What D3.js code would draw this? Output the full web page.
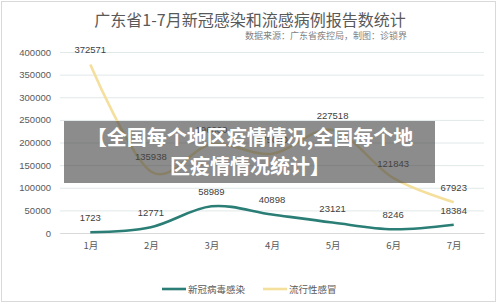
<!DOCTYPE html>
<html>
<head>
<meta charset="utf-8">
<script src="https://cdn.jsdelivr.net/npm/d3@7"></script>
<style>
  body { margin: 0; background: #fff; }
  text { font-family: "Noto Sans CJK SC", "Liberation Sans", sans-serif; }
</style>
</head>
<body>
<div id="viz-wrapper"></div>
<script>
  // chart values
  var months = ['1月', '2月', '3月', '4月', '5月', '6月', '7月'];
  var covid = [1723, 12771, 58989, 40898, 23121, 8246, 18384];
  var flu = [372571, 135938, 196000, 175000, 227518, 121843, 67923];
  var yTicks = [0, 50000, 100000, 150000, 200000, 250000, 300000, 350000, 400000];
  var seriesNames = ['新冠病毒感染', '流行性感冒'];

  var width = 500,
      height = 305;

  var viz = d3.select('#viz-wrapper')
              .append('svg')
              .attr('width', width)
              .attr('height', height);

  // outer frame
  viz.append('rect')
     .attr('x', 1.5).attr('y', 1.5)
     .attr('width', 494).attr('height', 300)
     .attr('fill', '#fff')
     .attr('stroke', '#d9d9d9');

  var x = d3.scalePoint().domain(months).range([60, 484]).padding(0.5);
  var y = d3.scaleLinear().domain([0, 400000]).range([233, 52]);

  // title + source
  viz.append('text')
     .attr('x', 250).attr('y', 26)
     .attr('text-anchor', 'middle')
     .attr('font-size', 16)
     .attr('fill', '#595959')
     .text('广东省1-7月新冠感染和流感病例报告数统计');

  viz.append('text')
     .attr('x', 407).attr('y', 39)
     .attr('text-anchor', 'end')
     .attr('font-size', 9)
     .attr('fill', '#7f7f7f')
     .text('数据来源：广东省疾控局，制图：诊锁界');

  // gridlines and y labels
  var yAxis = d3.axisLeft(y).tickValues(yTicks).tickSize(-424).tickFormat(d3.format('d'));
  var gy = viz.append('g').attr('transform', 'translate(60,0)').call(yAxis);
  gy.select('.domain').remove();
  gy.selectAll('line').attr('stroke', '#e1e8e8');
  gy.selectAll('text')
    .attr('x', -9)
    .attr('font-size', 9.5)
    .attr('fill', '#595959')
    .style('font-family', '"Liberation Sans", sans-serif');

  // x labels
  var xAxis = d3.axisBottom(x).tickSize(0);
  var gx = viz.append('g').attr('transform', 'translate(0,233)').call(xAxis);
  gx.select('.domain').attr('stroke', '#d9d9d9');
  gx.selectAll('text')
    .attr('y', 9)
    .attr('font-size', 9.5)
    .attr('fill', '#595959');

  var line = d3.line()
               .x(function(d, i) { return x(months[i]); })
               .y(function(d) { return y(d); })
               .curve(d3.curveCardinal.tension(0));

  var colors = ['#2a7e76', '#f5df9c'];

  viz.append('path').datum(flu)
     .attr('d', line).attr('fill', 'none')
     .attr('stroke', colors[1]).attr('stroke-width', 2.6);

  viz.append('path').datum(covid)
     .attr('d', line).attr('fill', 'none')
     .attr('stroke', colors[0]).attr('stroke-width', 2.6);

  // value labels above each point
  [covid, flu].forEach(function(series) {
    viz.append('g').selectAll('text')
       .data(series)
       .enter()
     .append('text')
       .attr('x', function(d, i) { return x(months[i]); })
       .attr('y', function(d) { return y(d) - 11; })
       .attr('text-anchor', 'middle')
       .attr('font-size', 9.5)
       .attr('fill', '#404040')
       .style('font-family', '"Liberation Sans", sans-serif')
       .text(function(d) { return d; });
  });

  // legend
  var legendX = [162, 263];
  seriesNames.forEach(function(name, i) {
    viz.append('line')
       .attr('x1', legendX[i]).attr('x2', legendX[i] + 24)
       .attr('y1', 289).attr('y2', 289)
       .attr('stroke', colors[i]).attr('stroke-width', 2.6);
    viz.append('text')
       .attr('x', legendX[i] + 26).attr('y', 292.5)
       .attr('font-size', 9.5)
       .attr('fill', '#595959')
       .text(name);
  });

  // grey watermark banner laid over the chart
  viz.append('rect')
     .attr('x', 64).attr('y', 121)
     .attr('width', 371).attr('height', 62)
     .attr('fill', 'rgba(70,70,70,0.62)');

  var banner = ['【全国每个地区疫情情况,全国每个地', '区疫情情况统计】'];
  banner.forEach(function(t, i) {
    viz.append('text')
       .attr('x', 250).attr('y', 145 + i * 29)
       .attr('text-anchor', 'middle')
       .attr('font-size', 20)
       .attr('font-weight', 'bold')
       .attr('fill', '#fff')
       .text(t);
  });
</script>
</body>
</html>
